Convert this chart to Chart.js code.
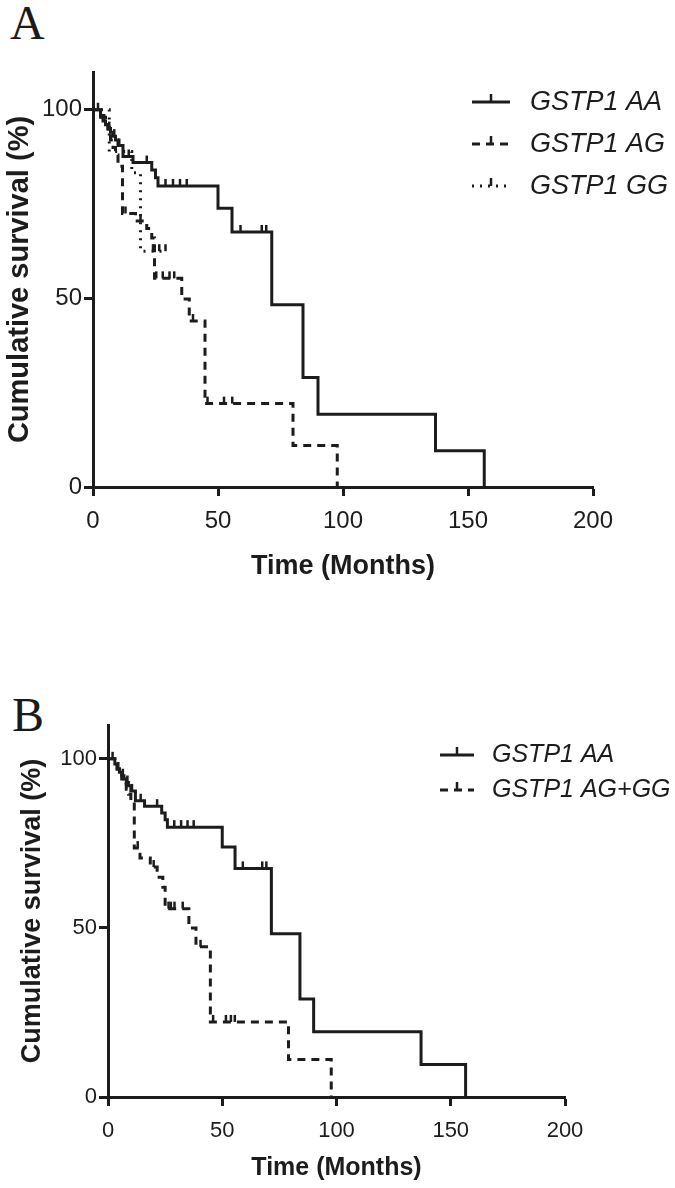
<!DOCTYPE html>
<html>
<head>
<meta charset="utf-8">
<script src="https://cdn.jsdelivr.net/npm/chart.js@4.4.1/dist/chart.umd.min.js"></script>
<style>
  html, body { margin: 0; padding: 0; background: #fff; }
  body { width: 675px; height: 1188px; position: relative; overflow: hidden; }
  canvas { position: absolute; left: 0; }
  #cA { top: 0; }
  #cB { top: 596px; }
  .panel { position: absolute; font-family: "Liberation Serif", "DejaVu Serif", serif; font-size: 48px; line-height: 48px; color: #1a1a1a; }
  #pA { left: 10px; top: -1px; }
  #pB { left: 12px; top: 691px; }
</style>
</head>
<body>
<div class="panel" id="pA">A</div>
<div class="panel" id="pB">B</div>
<canvas id="cA" width="675" height="592"></canvas>
<canvas id="cB" width="675" height="592"></canvas>
<script>
// Kaplan-Meier steps: event times (months) and survival (%) just after each time
const aaTimes = [0, 3, 4, 5, 6, 7, 8, 9, 10, 12, 16, 23.5, 25, 26, 50, 55.6, 71.5, 84, 90, 137, 156.5]
const aaSurv  = [100, 98.5, 97, 96, 95, 94, 93, 92, 90.5, 87.6, 86, 84, 82, 79.8, 73.9, 67.6, 48.3, 29, 19.3, 9.6, 0]
const aaCensor = [2, 4.5, 6.5, 8.5, 10.5, 14.3, 21.5, 29, 32, 34.8, 37.5, 59, 67.5, 69.3]

const agTimes = [0, 3, 5, 6, 7, 8, 9, 10, 11.8, 17, 21.5, 23.5, 24.6, 35.5, 38.5, 44.8, 80, 97.7]
const agSurv  = [100, 98, 96, 94, 92, 90, 88, 85, 72.5, 70.5, 68.5, 66, 55.3, 49.8, 44, 22.1, 11, 0]
const agCensor = [13, 19, 25.3, 27.9, 30.6, 32.5, 40, 45.8, 52.4, 55.7]

const ggTimes = [0, 6.5, 15.5, 19, 29]
const ggSurv  = [100, 88.9, 83.3, 62.5, 62.5]
const ggCensor = [24, 26.5, 29]

const aggTimes = [0, 3, 4, 5, 6, 7, 8, 9, 10, 11.5, 14, 18.5, 21.5, 24, 25, 35.4, 38.5, 44.8, 79, 97.7]
const aggSurv  = [100, 98.5, 97, 95.5, 94, 92.5, 91, 89.5, 87.4, 73.6, 70.7, 68, 65, 62, 55.7, 50, 44.4, 22.2, 11.1, 0]
const aggCensor = [13, 20, 26.5, 27.5, 29.1, 32.7, 40.5, 46, 51.6, 53.8, 55.5]

const xTicks = [0, 50, 100, 150, 200]
const yTicks = [0, 50, 100]
const legendA = ['GSTP1 AA', 'GSTP1 AG', 'GSTP1 GG']
const legendB = ['GSTP1 AA', 'GSTP1 AG+GG']

const INK = '#1c1c1c'
const FONT = 'Liberation Sans, Arial, sans-serif'

const survAt = (times, surv, t) => {
    let s = surv[0]
    for (let i = 0; i < times.length; i++) {
        if (times[i] <= t) s = surv[i]
    }
    return s
}

const stepSet = (times, surv, dash) => ({
    data: times.map((t, i) => ({x: t, y: surv[i]})),
    stepped: true,
    borderColor: INK,
    borderWidth: 3,
    borderDash: dash,
    pointRadius: 0,
    fill: false
})

const censorSet = (times, surv, censor) => ({
    data: censor.map(t => ({x: t, y: survAt(times, surv, t)})),
    showLine: false,
    pointStyle: 'dash',
    rotation: -90,
    pointRadius: 7,
    borderColor: INK,
    borderWidth: 2.5
})

// legend drawn inside the plot, line sample + censor tick + italic label
const kmLegend = {
    id: 'kmLegend',
    afterDraw(chart, args, opts) {
        const ctx = chart.ctx
        ctx.save()
        ctx.font = opts.font
        ctx.textBaseline = 'middle'
        opts.labels.forEach((label, i) => {
            const ds = chart.data.datasets[i * 2]
            const y = opts.y + i * opts.gap
            ctx.strokeStyle = INK
            ctx.lineWidth = 3
            ctx.setLineDash(ds.borderDash || [])
            ctx.beginPath()
            ctx.moveTo(opts.x, y)
            ctx.lineTo(opts.x + opts.w, y)
            ctx.stroke()
            ctx.setLineDash([])
            ctx.lineWidth = 2.5
            ctx.beginPath()
            ctx.moveTo(opts.x + opts.w / 2, y)
            ctx.lineTo(opts.x + opts.w / 2, y - 8)
            ctx.stroke()
            ctx.fillStyle = INK
            ctx.fillText(label, opts.textX, y)
        })
        ctx.restore()
    }
}

const makeChart = (id, datasets, cfg) => {
    return new Chart(document.getElementById(id), {
        type: 'line',
        data: {datasets},
        plugins: [kmLegend],
        options: {
            responsive: false,
            animation: false,
            devicePixelRatio: 1,
            layout: {padding: cfg.padding},
            plugins: {
                legend: {display: false},
                tooltip: {enabled: false},
                kmLegend: cfg.legend
            },
            scales: {
                x: {
                    type: 'linear',
                    min: 0,
                    max: 200,
                    afterFit: s => { s.height = cfg.xHeight },
                    afterBuildTicks: s => { s.ticks = xTicks.map(v => ({value: v})) },
                    grid: {drawOnChartArea: false, drawTicks: true, tickLength: 9, tickWidth: 3, tickColor: INK},
                    border: {display: true, color: INK, width: 3},
                    ticks: {color: INK, padding: cfg.xPad, font: {family: FONT, size: cfg.tickSize}},
                    title: {display: true, text: 'Time (Months)', color: INK, padding: 0,
                        font: {family: FONT, size: cfg.xTitleSize, weight: 'bold'}}
                },
                y: {
                    min: 0,
                    max: 110,
                    afterFit: s => { s.width = cfg.yWidth },
                    afterBuildTicks: s => { s.ticks = yTicks.map(v => ({value: v})) },
                    grid: {drawOnChartArea: false, drawTicks: true, tickLength: 9, tickWidth: 3, tickColor: INK},
                    border: {display: true, color: INK, width: 3},
                    ticks: {color: INK, padding: 2, font: {family: FONT, size: cfg.tickSize}},
                    title: {display: true, text: 'Cumulative survival (%)', color: INK, padding: 0,
                        font: {family: FONT, size: cfg.yTitleSize, weight: 'bold'}}
                }
            }
        }
    })
}

window.onload = () => {
    makeChart('cA', [
        stepSet(aaTimes, aaSurv, []), censorSet(aaTimes, aaSurv, aaCensor),
        stepSet(agTimes, agSurv, [8, 6]), censorSet(agTimes, agSurv, agCensor),
        stepSet(ggTimes, ggSurv, [2, 6]), censorSet(ggTimes, ggSurv, ggCensor)
    ], {
        padding: {left: 3, top: 72, right: 82, bottom: 9},
        xHeight: 96, yWidth: 90, xPad: 11, tickSize: 24, xTitleSize: 27, yTitleSize: 29,
        legend: {labels: legendA, x: 472, w: 38, textX: 530, y: 102, gap: 42, font: 'italic 27px "Liberation Sans", Arial, sans-serif'}
    })

    makeChart('cB', [
        stepSet(aaTimes, aaSurv, []), censorSet(aaTimes, aaSurv, aaCensor),
        stepSet(aggTimes, aggSurv, [8, 6]), censorSet(aggTimes, aggSurv, aggCensor)
    ], {
        padding: {left: 16, top: 129, right: 110, bottom: 5},
        xHeight: 86, yWidth: 92, xPad: 12, tickSize: 22, xTitleSize: 25, yTitleSize: 27,
        legend: {labels: legendB, x: 440, w: 34, textX: 492, y: 159, gap: 35, font: 'italic 25px "Liberation Sans", Arial, sans-serif'}
    })
}
</script>
</body>
</html>
